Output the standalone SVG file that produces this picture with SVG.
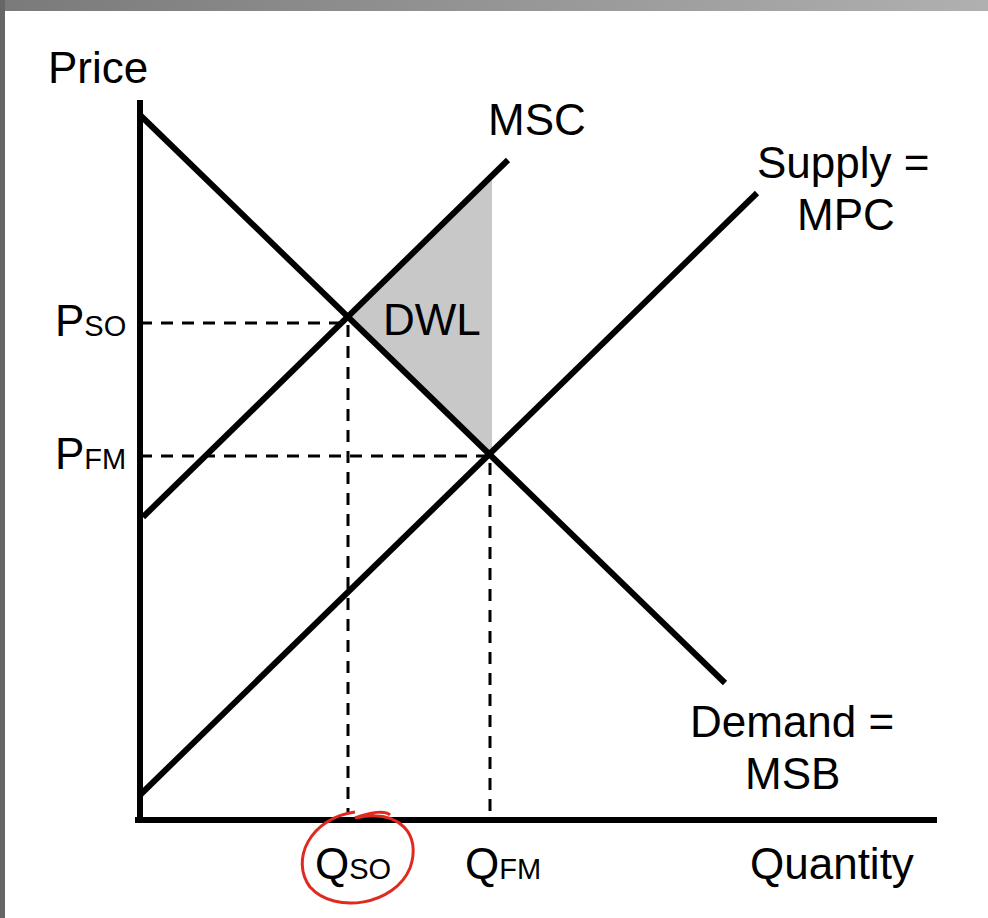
<svg xmlns="http://www.w3.org/2000/svg" width="988" height="918" viewBox="0 0 988 918">
<defs><linearGradient id="g" x1="0" x2="1"><stop offset="0" stop-color="#7a7a7a"/><stop offset="1" stop-color="#b0b0b0"/></linearGradient></defs>
<style>
.t{font-family:"Liberation Sans",Arial,sans-serif;font-size:44px;fill:#000}
.s{font-size:29px}
.ln{stroke:#000;stroke-width:6;fill:none}
.d{stroke:#000;stroke-width:3;stroke-dasharray:12 9;fill:none}
</style>
<rect width="988" height="918" fill="#fff"/>
<rect width="988" height="11" fill="url(#g)"/>
<rect width="5" height="918" fill="#666"/>
<g id="dwl"><polygon points="348,317 492,176 492,453" fill="#c8c8c8"/></g>
<g id="connectors">
<path class="d" d="M140,323H348V812M140,456H490V812"/>
<path class="ln" d="M140,100V822M135,820H937"/>
<path class="ln" d="M140,115L725,683"/>
<path class="ln" d="M143,517L508,160"/>
<path class="ln" d="M140,795L757,193"/>
</g>
<g id="labels">
<text class="t" x="48" y="83">Price</text>
<text class="t" x="488" y="135">MSC</text>
<text class="t" x="757" y="178" font-size="41">Supply =</text>
<text class="t" x="797" y="230" font-size="41">MPC</text>
<text class="t" x="690" y="737">Demand =</text>
<text class="t" x="745" y="789">MSB</text>
<text class="t" x="750" y="879">Quantity</text>
<text class="t" x="383" y="335">DWL</text>
<text class="t" x="55" y="336">P<tspan class="s">SO</tspan></text>
<text class="t" x="55" y="469">P<tspan class="s">FM</tspan></text>
<text class="t" x="315" y="879">Q<tspan class="s">SO</tspan></text>
<text class="t" x="465" y="879">Q<tspan class="s">FM</tspan></text>
</g>
<g id="circle"><path d="M355,812C310,818 290,860 310,887C335,915 395,905 410,868C422,835 400,808 355,818C370,812 385,810 390,815" fill="none" stroke="#e02a20" stroke-width="3"/></g>
</svg>
